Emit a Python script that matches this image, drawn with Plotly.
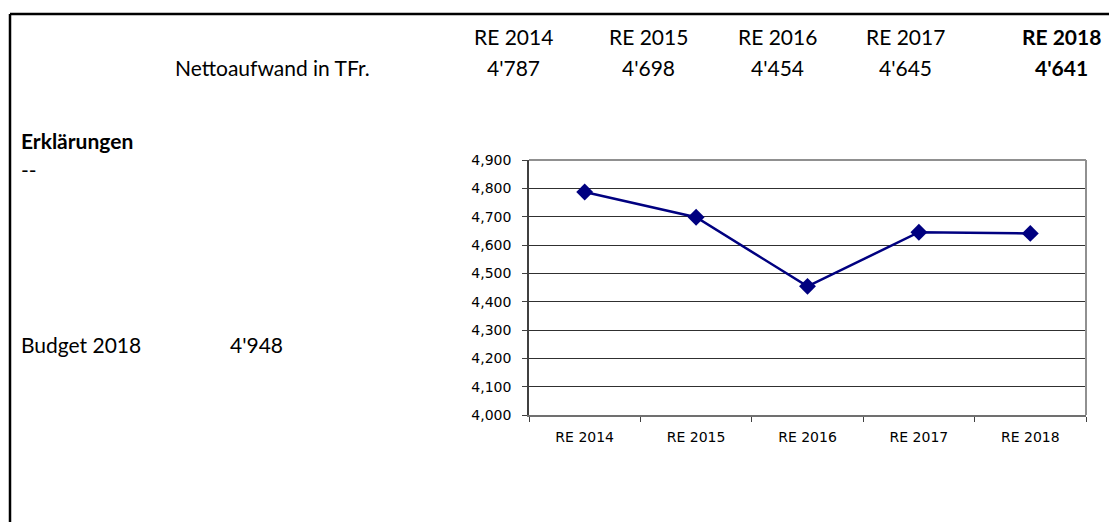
import plotly.graph_objects as go

categories = ["RE 2014", "RE 2015", "RE 2016", "RE 2017", "RE 2018"]
values = [4787, 4698, 4454, 4645, 4641]
value_labels = ["4'787", "4'698", "4'454", "4'645", "4'641"]
row_label = "Nettoaufwand in TFr."
section_title = "Erklärungen"
section_text = "--"
budget_label = "Budget 2018"
budget_value = "4'948"

W, H = 1117, 522
OFF = 8  # default page body margin
PX_L, PX_R, PX_T, PX_B = 529, 1086, 160, 415
ML, MT = PX_L - OFF, PX_T - OFF
PW, PH = PX_R - PX_L, PX_B - PX_T


def px(x):
    return (x - PX_L) / PW


def py(y):
    return (PX_B - y) / PH


fig = go.Figure()
fig.add_trace(go.Scatter(
    x=categories, y=values, mode="lines+markers",
    line=dict(color="#000080", width=2.5),
    marker=dict(symbol="diamond", size=13, color="#000080"),
    showlegend=False, hoverinfo="x+y",
))

FONT = "Lato"
FS = 21


def note(x, y, text, anchor="center"):
    return dict(x=px(x), y=py(y), xref="paper", yref="paper", text=text,
                showarrow=False, xanchor=anchor, yanchor="middle",
                font=dict(family=FONT, size=FS, color="#000"))


header_x = [513, 648, 777, 905, 1061]
ann = []
for i, (c, v) in enumerate(zip(categories, value_labels)):
    bold = i == len(categories) - 1
    ann.append(note(header_x[i], 37, f"<b>{c}</b>" if bold else c))
    ann.append(note(header_x[i], 68, f"<b>{v}</b>" if bold else v))
ann.append(note(372, 68, row_label, "right"))
ann.append(note(19, 140, f"<b>{section_title}</b>", "left"))
ann.append(note(19, 169, section_text, "left"))
ann.append(note(19, 344, budget_label, "left"))
ann.append(note(228, 344, budget_value, "left"))

shapes = [
    dict(type="line", xref="paper", yref="paper", x0=px(10), x1=px(1125), y0=py(14), y1=py(14),
         line=dict(color="#000", width=2.5)),
    dict(type="line", xref="paper", yref="paper", x0=px(10), x1=px(10), y0=py(14), y1=py(540),
         line=dict(color="#000", width=2.5)),
    dict(type="line", xref="paper", yref="paper", x0=0, x1=1, y0=1, y1=1,
         line=dict(color="#909090", width=2)),
    dict(type="line", xref="paper", yref="paper", x0=1, x1=1, y0=0, y1=1,
         line=dict(color="#909090", width=2)),
]

fig.update_layout(
    width=W, height=H,
    margin=dict(l=ML, r=W - ML - PW, t=MT, b=H - MT - PH, autoexpand=False),
    paper_bgcolor="white", plot_bgcolor="white",
    annotations=ann, shapes=shapes,
    xaxis=dict(type="category", tickson="boundaries", automargin=False,
               range=[-0.5, len(categories) - 0.5],
               ticks="outside", ticklen=5, tickcolor="#404040", showgrid=False,
               showline=True, linecolor="#707070", linewidth=1.5,
               ticklabelstandoff=8,
               tickfont=dict(family="DejaVu Sans", size=14, color="#000")),
    yaxis=dict(range=[4000, 4900], dtick=100, automargin=False,
               tickformat=",", ticks="outside", ticklen=5, tickcolor="#404040",
               showgrid=True, gridcolor="#303030", gridwidth=1,
               showline=True, linecolor="#404040", linewidth=1.5, zeroline=False,
               ticklabelstandoff=8,
               tickfont=dict(family="DejaVu Sans", size=14, color="#000")),
)

fig.write_html("out.html")
